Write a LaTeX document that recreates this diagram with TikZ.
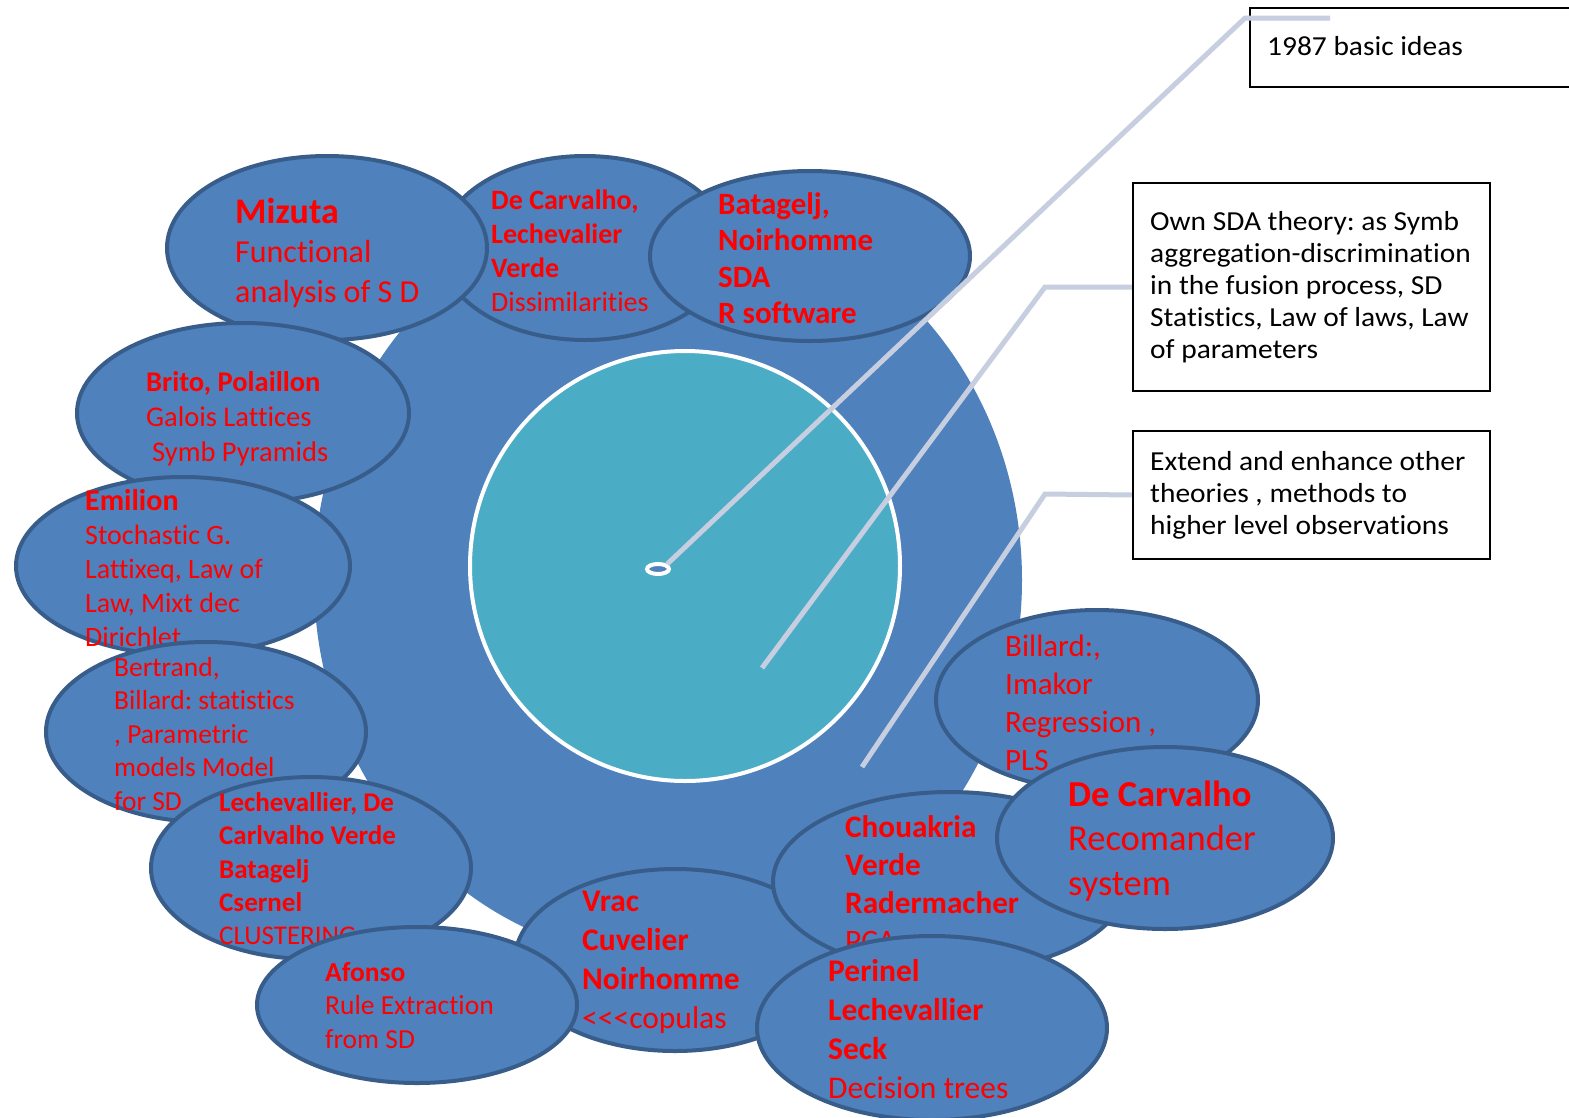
\documentclass[tikz,border=0pt]{standalone}
\usepackage{fontspec}
\setmainfont{Carlito}[Ligatures={TeX,CommonOff}]
\newfontfamily\boxfont{Carlito}[FakeStretch=1.07,Ligatures={TeX,CommonOff}]
\usetikzlibrary{shapes.geometric}
\definecolor{sblue}{HTML}{4F81BD}
\definecolor{sedge}{HTML}{385D8A}
\definecolor{steal}{HTML}{4BACC6}
\definecolor{sline}{HTML}{C6CEE0}
\frenchspacing
\begin{document}
\begin{tikzpicture}[x=1pt,y=-1pt,
  bub/.style={ellipse, draw=sedge, line width=4pt, fill=sblue, inner sep=0pt},
  rtxt/.style={text=red, align=left, anchor=base west, inner sep=0pt},
  ktxt/.style={text=black, align=left, anchor=base west, inner sep=0pt, font=\boxfont\fontsize{27.5}{32}\selectfont},
  tbox/.style={draw=black, line width=2.5pt, fill=white, inner sep=0pt},
  conn/.style={draw=sline, line width=5pt}]
\useasboundingbox (0,0) rectangle (1569,1117);
\fill[white] (0,0) rectangle (1569,1117);

% central shapes
\node[ellipse, fill=sblue, inner sep=0pt, minimum width=708pt, minimum height=760pt] (disc) at (668,580) {};
\node[circle, fill=steal, draw=white, line width=4pt, inner sep=0pt, minimum size=430pt] (core) at (685,566) {};
\node[ellipse, fill=sblue, draw=white, line width=4pt, inner sep=0pt, minimum width=22pt, minimum height=10pt] (dot) at (658,569) {};

% top ellipses (text anchored at the baseline of its last line)
\node[bub, minimum width=290pt, minimum height=184pt] (e2) at (585,248) {};
\node[rtxt, font=\fontsize{28}{34}\selectfont] (t2) at (491,311)
  {{\bfseries De Carvalho,}\\{\bfseries Lechevalier}\\{\bfseries Verde}\\Dissimilarities};
\node[bub, minimum width=320pt, minimum height=184pt] (e1) at (327,248) {};
\node[rtxt, font=\fontsize{32}{39.5}\selectfont] (t1) at (235,302)
  {{\fontsize{36}{39.5}\selectfont\bfseries Mizuta}\\Functional\\analysis of S D};
\node[bub, minimum width=320pt, minimum height=170pt] (e3) at (810,256) {};
\node[rtxt, font=\fontsize{31}{36.5}\selectfont\bfseries] (t3) at (718,323.5)
  {Batagelj,\\Noirhomme\\SDA\\R software};

% left ellipses
\node[bub, minimum width=332pt, minimum height=180pt] (e4) at (243,413) {};
\node[rtxt, font=\fontsize{28.5}{35}\selectfont] (t4) at (146,461)
  {{\bfseries Brito, Polaillon}\\Galois Lattices\\\hspace*{6pt}Symb Pyramids};
\node[bub, minimum width=334pt, minimum height=178pt] (e5) at (183,566) {};
\node[rtxt, font=\fontsize{28}{34}\selectfont] (t5) at (85,646)
  {{\fontsize{30}{34}\selectfont\bfseries Emilion}\\Stochastic G.\\Lattixeq, Law of\\Law, Mixt dec\\Dirichlet};
\node[bub, minimum width=320pt, minimum height=180pt] (e6) at (206,732) {};
\node[rtxt, font=\fontsize{27.5}{33.5}\selectfont] (t6) at (114,810)
  {Bertrand,\\Billard: statistics\\, Parametric\\models Model\\for SD};
\node[bub, minimum width=320pt, minimum height=182pt] (e7) at (311,868) {};
\node[rtxt, font=\fontsize{27}{33.3}\selectfont] (t7) at (219,944.7)
  {{\bfseries Lechevallier, De}\\{\bfseries Carlvalho Verde}\\{\bfseries Batagelj}\\{\bfseries Csernel}\\CLUSTERING};

% bottom ellipses
\node[bub, minimum width=320pt, minimum height=182pt] (e9) at (675,960) {};
\node[rtxt, font=\fontsize{31.5}{38.7}\selectfont] (t9) at (582,1028)
  {{\bfseries Vrac}\\{\bfseries Cuvelier}\\{\bfseries Noirhomme}\\<\kern0pt<\kern0pt<copulas};
\node[bub, minimum width=320pt, minimum height=156pt] (e8) at (417,1005) {};
\node[rtxt, font=\fontsize{27.5}{33.5}\selectfont] (t8) at (325,1048)
  {{\bfseries Afonso}\\Rule Extraction\\from SD};

% right ellipses
\node[bub, minimum width=322pt, minimum height=180pt] (e11) at (1097,700) {};
\node[rtxt, font=\fontsize{31}{38}\selectfont] (t11) at (1005,770)
  {Billard:,\\Imakor\\Regression ,\\PLS};
\node[bub, minimum width=354pt, minimum height=180pt] (e10) at (950,882) {};
\node[bub, minimum width=336pt, minimum height=182pt] (e12) at (1165,838) {};
\node[rtxt, font=\fontsize{36.5}{44.5}\selectfont] (t12) at (1068,895)
  {{\bfseries De Carvalho}\\Recomander\\system};
\node[rtxt, font=\fontsize{31.2}{38}\selectfont] (t10) at (845,951.5)
  {{\bfseries Chouakria}\\{\bfseries Verde}\\{\bfseries Radermacher}\\PCA};
\node[bub, minimum width=350pt, minimum height=184pt] (e13) at (932,1028) {};
\node[rtxt, font=\fontsize{31.5}{38.7}\selectfont] (t13) at (828,1098)
  {{\bfseries Perinel}\\{\bfseries Lechevallier}\\{\bfseries Seck}\\Decision trees};

% text boxes
\node[tbox, minimum width=330pt, minimum height=79pt] (b1) at (1415,47.5) {};
\node[ktxt] (k1t) at (1267,55) {1987 basic ideas};
\node[tbox, minimum width=357pt, minimum height=208pt] (b2) at (1311.5,287) {};
\node[ktxt] (k2t) at (1150,358.5)
  {Own SDA theory: as Symb\\aggregation-discrimination\\in the fusion process, SD\\Statistics, Law of laws, Law\\of parameters};
\node[tbox, minimum width=357pt, minimum height=128pt] (b3) at (1311.5,495) {};
\node[ktxt] (k3t) at (1150,534.5)
  {Extend and enhance other\\theories , methods to\\higher level observations};

% connectors
\coordinate (c1k) at (1245,18);
\coordinate (c1e) at (1330,18);
\coordinate (c2s) at (762,668);
\coordinate (c2k) at (1045,287);
\coordinate (c3s) at (862,767);
\coordinate (c3k) at (1045,494);
\draw[conn] (dot.north east) -- (c1k) -- (c1e);
\draw[conn] (c2s) -- (c2k) -- (b2.west);
\draw[conn] (c3s) -- (c3k) -- (b3.west);
\end{tikzpicture}
\end{document}
